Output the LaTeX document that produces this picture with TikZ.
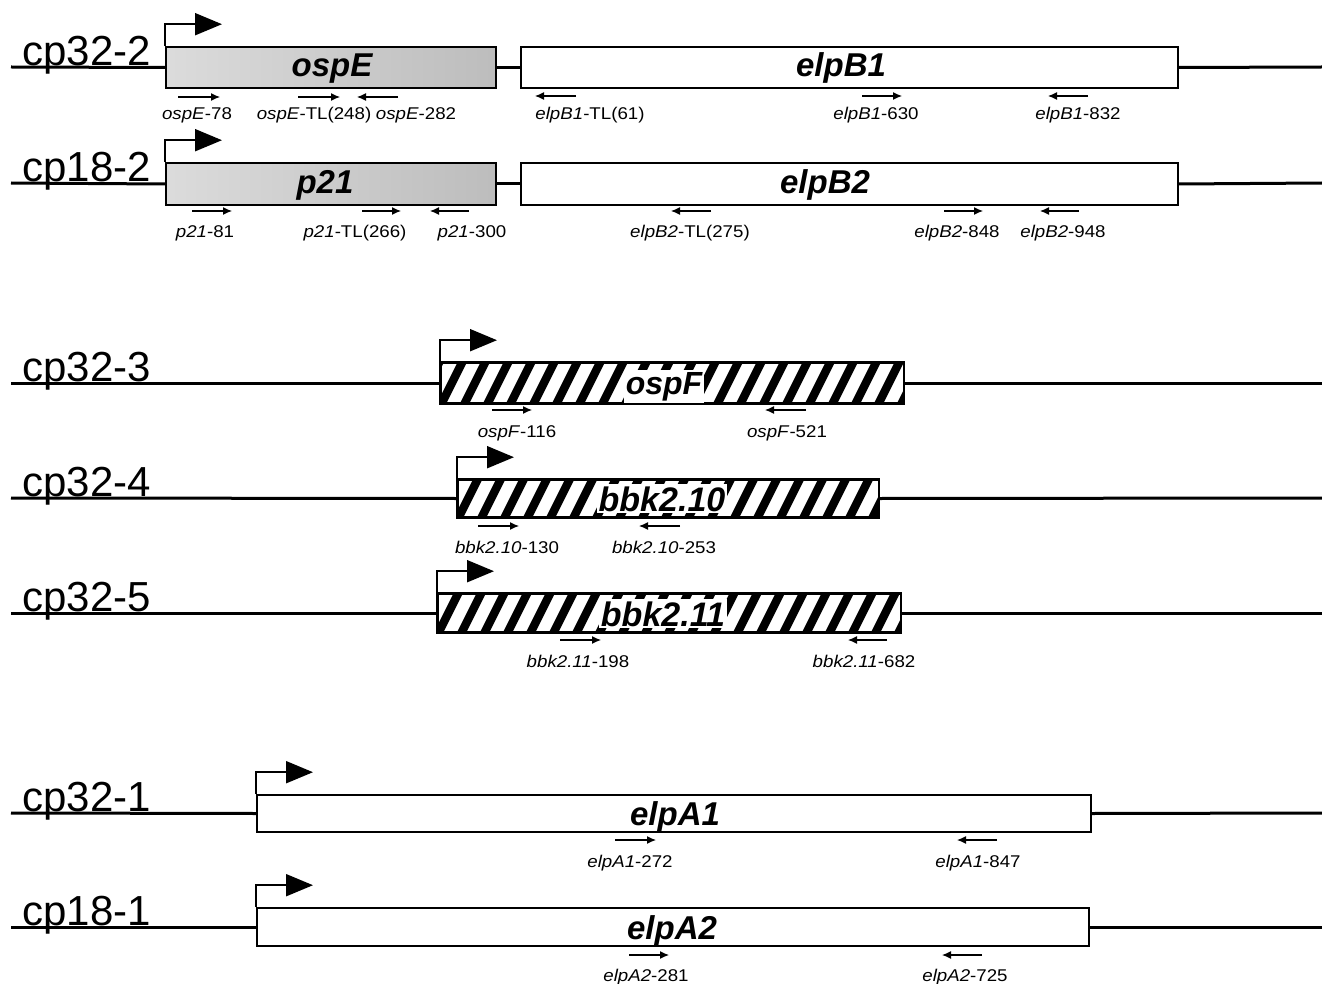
\documentclass[tikz,border=0pt]{standalone}
\usepackage{fontspec}
\setmainfont{Liberation Sans}
\newfontfamily\primfont[FakeStretch=1.1]{Liberation Sans}
\usetikzlibrary{arrows.meta,calc}
\tikzset{
 bb/.style={line width=1.5pt},
 gbox/.style={draw, line width=0.8pt, rectangle, anchor=west, inner sep=0pt},
 graybox/.style={gbox, left color=black!14, right color=black!26},
 whitebox/.style={gbox, fill=white},
 stripe/.style={line width=4.2pt},
 gname/.style={font=\fontsize{16.5}{18}\selectfont\bfseries\itshape, anchor=base, inner sep=0pt},
 hname/.style={font=\fontsize{17}{19}\selectfont\bfseries\itshape, anchor=base, fill=white, inner sep=1pt},
 chr/.style={font=\fontsize{21}{23}\selectfont, anchor=base west, inner sep=0pt},
 prom/.style={line width=1pt, -{Triangle[length=13.5pt,width=11pt]}},
 primer/.style={line width=0.6pt, -{Latex[length=4.5pt,width=4pt]}},
 plabel/.style={font=\primfont\fontsize{8.5}{10}\selectfont, anchor=base, inner sep=0pt},
 hborder/.style={line width=0.8pt},
}
\newcommand{\prm}[7]{%
 \coordinate (#1a) at (#2,#4); \coordinate (#1b) at (#3,#4);
 \draw[primer] (#1a) -- (#1b);
 \node[plabel] (#1) at (#5,#6) {#7};}
\newcommand{\hatchit}[1]{%
 \begin{scope}
 \clip (#1.south west) rectangle (#1.north east);
 \foreach \k in {0,...,23} \draw[stripe] ($(#1.south west)+(\k*23-24,5)$) -- ++(25,-50);
 \end{scope}}
\newcommand{\prom}[1]{\draw[prom] (#1.north west) -- ++(0,-22) -- ++(57,0);}
\begin{document}
\begin{tikzpicture}[x=0.5pt,y=-0.5pt]
\useasboundingbox (0,0) rectangle (1322,984);
% ---------- cp32-2
\coordinate (L1) at (11,67); \coordinate (R1) at (1322,67);
\node[graybox, minimum width=165pt, minimum height=20.5pt] (ospE) at (165,67.5) {};
\node[whitebox, minimum width=328.5pt, minimum height=20.5pt] (elpB1) at (520,67.5) {};
\draw[bb] (L1) -- (ospE.west);
\draw[bb] (ospE.east) -- (elpB1.west);
\draw[bb] (elpB1.east) -- (R1);
\node[chr] (c1) at (22,66) {cp32-2};
\node[gname] (ospEt) at (332,77) {ospE};
\node[gname] (elpB1t) at (841,77) {elpB1};
\prom{ospE}
\prm{p1}{178}{220}{97}{197}{120}{\textit{ospE}-78}
\prm{p2}{298}{340}{97}{314}{120}{\textit{ospE}-TL(248)}
\prm{p3}{398}{357}{97}{416}{120}{\textit{ospE}-282}
\prm{p4}{576}{535}{96}{590}{120}{\textit{elpB1}-TL(61)}
\prm{p5}{862}{902}{96}{876}{120}{\textit{elpB1}-630}
\prm{p6}{1088}{1048}{96}{1078}{120}{\textit{elpB1}-832}
% ---------- cp18-2
\coordinate (L2) at (11,183); \coordinate (R2) at (1322,183);
\node[graybox, minimum width=165pt, minimum height=21pt] (p21) at (165,184) {};
\node[whitebox, minimum width=328.5pt, minimum height=21pt] (elpB2) at (520,184) {};
\draw[bb] (L2) -- (p21.west);
\draw[bb] (p21.east) -- (elpB2.west);
\draw[bb] (elpB2.east) -- (R2);
\node[chr] (c2) at (22,182) {cp18-2};
\node[gname] (p21t) at (325,194) {p21};
\node[gname] (elpB2t) at (825,194) {elpB2};
\prom{p21}
\prm{q1}{192}{232}{211}{205}{238}{\textit{p21}-81}
\prm{q2}{362}{401}{211}{355}{238}{\textit{p21}-TL(266)}
\prm{q3}{469}{430}{211}{472}{238}{\textit{p21}-300}
\prm{q4}{711}{671}{211}{690}{238}{\textit{elpB2}-TL(275)}
\prm{q5}{944}{983}{211}{957}{238}{\textit{elpB2}-848}
\prm{q6}{1079}{1040}{211}{1063}{238}{\textit{elpB2}-948}
% ---------- cp32-3
\coordinate (L3) at (11,383); \coordinate (R3) at (1322,383);
\node[whitebox, minimum width=231.5pt, minimum height=20pt] (ospF) at (440,383) {};
\hatchit{ospF}
\draw[bb] (L3) -- (ospF.west);
\draw[bb] (ospF.east) -- (R3);
\node[chr] (c3) at (22,381) {cp32-3};
\node[hname, font=\fontsize{16}{18}\selectfont\bfseries\itshape] (ospFt) at (664,394) {ospF};
\draw[hborder] (ospF.south west) rectangle (ospF.north east);
\prom{ospF}
\prm{r1}{492}{532}{410}{517}{437}{\textit{ospF}-116}
\prm{r2}{806}{765}{410}{787}{437}{\textit{ospF}-521}
% ---------- cp32-4
\coordinate (L4) at (11,498); \coordinate (R4) at (1322,498);
\node[whitebox, minimum width=210.5pt, minimum height=18.5pt] (bbk10) at (457,498.5) {};
\hatchit{bbk10}
\draw[bb] (L4) -- (bbk10.west);
\draw[bb] (bbk10.east) -- (R4);
\node[chr] (c4) at (22,496) {cp32-4};
\node[hname] (bbk10t) at (662,511) {bbk2.10};
\draw[hborder] (bbk10.south west) rectangle (bbk10.north east);
\prom{bbk10}
\prm{s1}{478}{519}{526}{507}{553}{\textit{bbk2.10}-130}
\prm{s2}{680}{639}{526}{664}{553}{\textit{bbk2.10}-253}
% ---------- cp32-5
\coordinate (L5) at (11,613); \coordinate (R5) at (1322,613);
\node[whitebox, minimum width=231.5pt, minimum height=19pt] (bbk11) at (437,613) {};
\hatchit{bbk11}
\draw[bb] (L5) -- (bbk11.west);
\draw[bb] (bbk11.east) -- (R5);
\node[chr] (c5) at (22,611) {cp32-5};
\node[hname] (bbk11t) at (663,626) {bbk2.11};
\draw[hborder] (bbk11.south west) rectangle (bbk11.north east);
\prom{bbk11}
\prm{t1}{560}{601}{640}{578}{667}{\textit{bbk2.11}-198}
\prm{t2}{887}{848}{640}{864}{667}{\textit{bbk2.11}-682}
% ---------- cp32-1
\coordinate (L6) at (11,813); \coordinate (R6) at (1322,813);
\node[whitebox, minimum width=417pt, minimum height=18.5pt] (elpA1) at (256,813.5) {};
\draw[bb] (L6) -- (elpA1.west);
\draw[bb] (elpA1.east) -- (R6);
\node[chr] (c6) at (22,811) {cp32-1};
\node[gname] (elpA1t) at (675,825) {elpA1};
\prom{elpA1}
\prm{u1}{615}{656}{840}{630}{867}{\textit{elpA1}-272}
\prm{u2}{997}{957}{840}{978}{867}{\textit{elpA1}-847}
% ---------- cp18-1
\coordinate (L7) at (11,927); \coordinate (R7) at (1322,927);
\node[whitebox, minimum width=416pt, minimum height=19pt] (elpA2) at (256,927) {};
\draw[bb] (L7) -- (elpA2.west);
\draw[bb] (elpA2.east) -- (R7);
\node[chr] (c7) at (22,925) {cp18-1};
\node[gname] (elpA2t) at (672,939) {elpA2};
\prom{elpA2}
\prm{v1}{629}{669}{955}{646}{981}{\textit{elpA2}-281}
\prm{v2}{982}{942}{955}{965}{981}{\textit{elpA2}-725}
\end{tikzpicture}
\end{document}
